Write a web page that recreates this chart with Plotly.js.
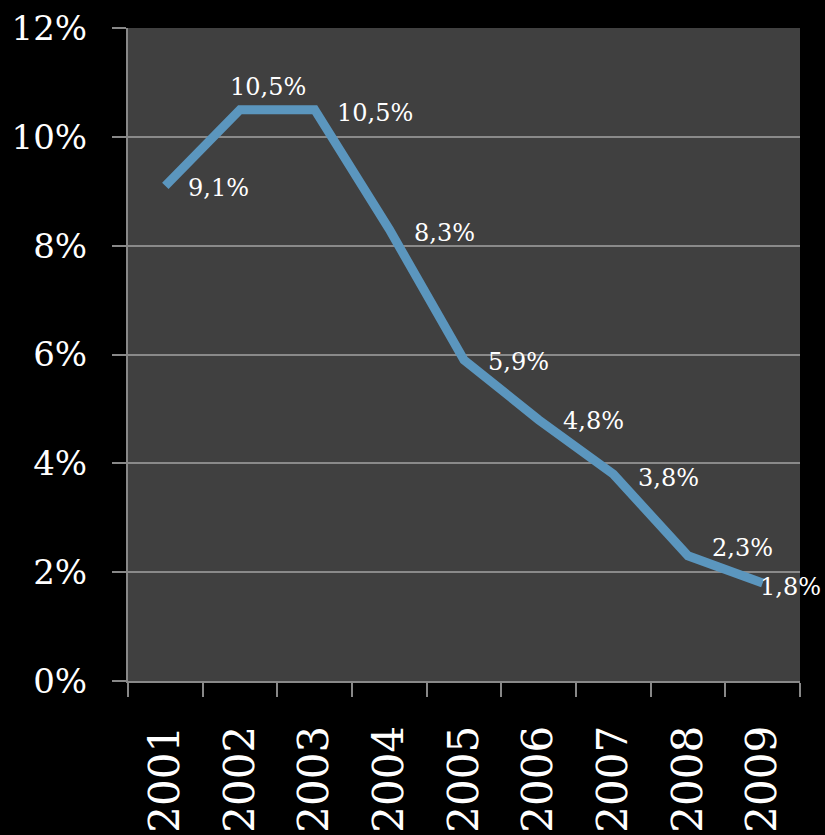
<!DOCTYPE html>
<html>
<head>
<meta charset="utf-8">
<script src="https://cdn.plot.ly/plotly-3.0.1.min.js"></script>
<style>html,body{margin:0;padding:0;background:#000;}#chart{width:825px;height:835px;}</style>
</head>
<body>
<div id="chart"></div>
<script>
const years = ["2001","2002","2003","2004","2005","2006","2007","2008","2009"];
const rates = [9.1, 10.5, 10.5, 8.3, 5.9, 4.8, 3.8, 2.3, 1.8];
const yTickVals = [0, 2, 4, 6, 8, 10, 12];
const yTickText = ["0%", "2%", "4%", "6%", "8%", "10%", "12%"];
// label offsets in pixels (style only)
const labelDx = [53, 28, 60, 55, 54, 55, 55, 54, 28];
const labelDy = [-2, 23, -3, -4, -2, -1, -4, 8, -4];

const fmt = v => v.toFixed(1).replace('.', ',') + '%';

const trace = {
  x: years,
  y: rates,
  type: 'scatter',
  mode: 'lines',
  line: {color: '#5b96be', width: 9, shape: 'linear'},
  hoverinfo: 'skip'
};

const annotations = years.map((yr, i) => ({
  x: i, y: rates[i], xref: 'x', yref: 'y',
  text: fmt(rates[i]), showarrow: false,
  xanchor: 'center', yanchor: 'middle',
  xshift: labelDx[i], yshift: labelDy[i],
  font: {family: 'DejaVu Serif', size: 24, color: '#ffffff'}
}));

const layout = {
  width: 825, height: 835,
  margin: {l: 128, r: 25, t: 28, b: 154},
  paper_bgcolor: '#000000',
  plot_bgcolor: '#404040',
  showlegend: false,
  xaxis: {
    type: 'category',
    categoryarray: years, categoryorder: 'array',
    range: [-0.5, 8.5],
    tickson: 'boundaries',
    ticks: 'outside', ticklen: 14, tickwidth: 2, tickcolor: '#888888',
    showline: true, linecolor: '#888888', linewidth: 2,
    showgrid: false, zeroline: false,
    tickangle: -90,
    ticklabelstandoff: 26,
    tickfont: {family: 'DejaVu Serif', size: 42, color: '#ffffff'}
  },
  yaxis: {
    range: [0, 12],
    tickvals: yTickVals, ticktext: yTickText,
    ticks: 'outside', ticklen: 14, tickwidth: 2, tickcolor: '#888888',
    showline: true, linecolor: '#888888', linewidth: 2,
    showgrid: true, gridcolor: '#8a8a8a', gridwidth: 2,
    zeroline: false,
    ticklabelstandoff: 18,
    tickfont: {family: 'DejaVu Serif', size: 34, color: '#ffffff'}
  },
  annotations: annotations
};

Plotly.newPlot('chart', [trace], layout, {displayModeBar: false, staticPlot: true});
</script>
</body>
</html>
